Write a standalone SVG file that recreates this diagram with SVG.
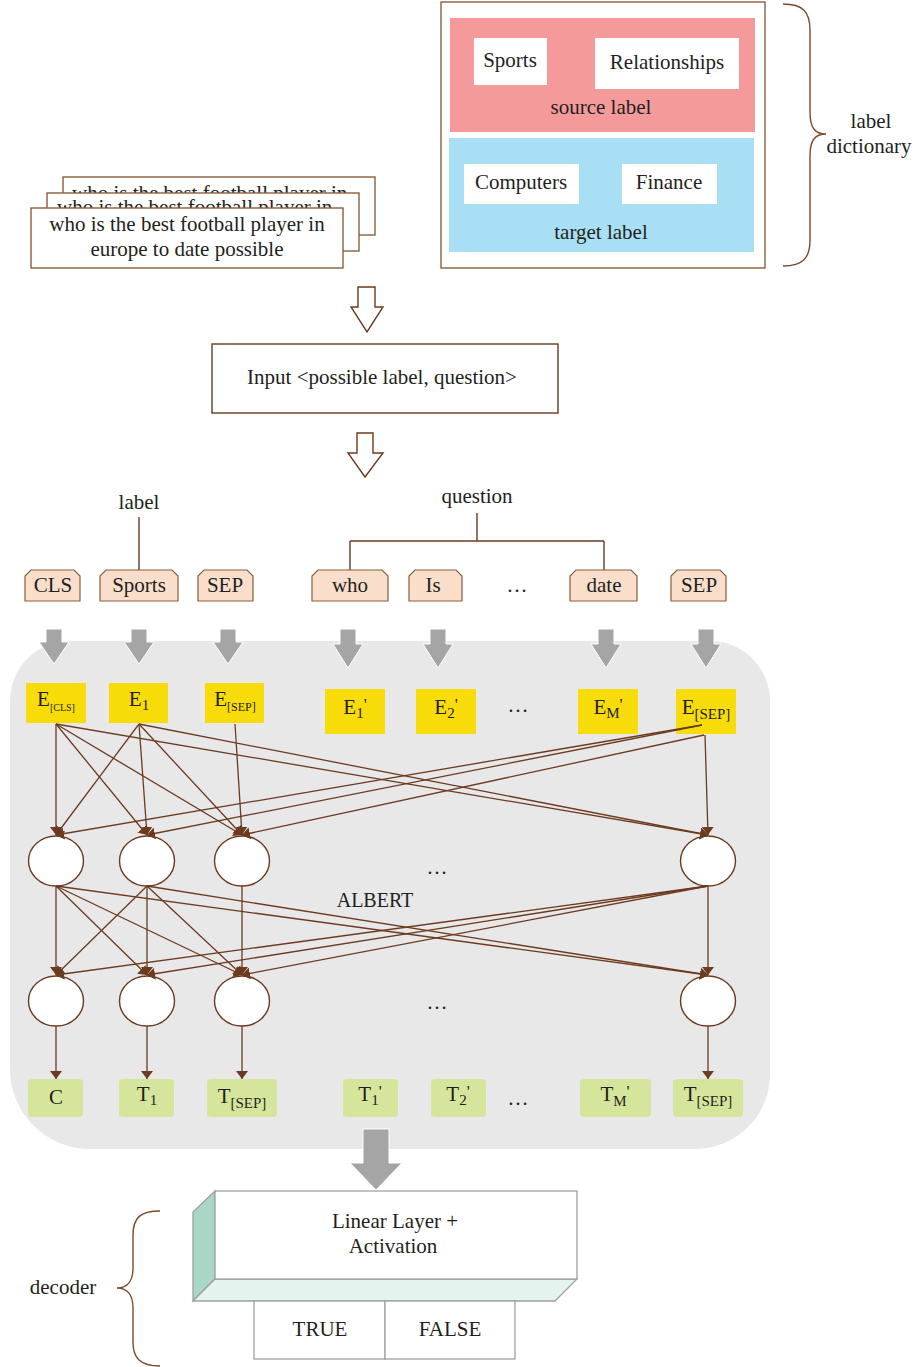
<svg xmlns="http://www.w3.org/2000/svg" width="916" height="1367" viewBox="0 0 916 1367">
  <style>
    text { font-family: "Liberation Serif", "Times New Roman", serif; font-size: 21px; fill: #231F20; }
    .mid { text-anchor: middle; }
    .card { fill: #FFFFFF; stroke: #8B5E3C; stroke-width: 1.4; }
    .tok { fill: #F9DECB; stroke: #8B5E3C; stroke-width: 1.2; }
    .emb { fill: #F8DC0A; }
    .out { fill: #D6E59C; }
    .node { fill: #FFFFFF; stroke: #6B3A1F; stroke-width: 1.4; }
    .edge { stroke: #6B3A1F; stroke-width: 1.3; fill: none; marker-end: url(#ah); }
    .feed { fill: #A5A5A5; stroke: #FFFFFF; stroke-width: 1; }
    .hollow { fill: #FFFFFF; stroke: #6B3A1F; stroke-width: 1.4; }
    .brace { fill: none; stroke: #7B4A2A; stroke-width: 1.4; }
    .dec { stroke: #A0A0A0; stroke-width: 1.3; }
    .pr { font-size: 17px; }
  </style>
  <defs>
    <marker id="ah" viewBox="0 0 8 12" refX="8" refY="6" markerWidth="8" markerHeight="12" markerUnits="userSpaceOnUse" orient="auto">
      <path d="M0,0 L8,6 L0,12 z" fill="#6B3A1F"/>
    </marker>
    <!-- visible strips of the cards lying underneath -->
    <clipPath id="backStrip"><rect x="64" y="178" width="310" height="15"/></clipPath>
    <clipPath id="midStrip"><rect x="48" y="194" width="310" height="14"/></clipPath>
  </defs>

  <!-- stacked question cards -->
  <g id="questions">
    <rect class="card" x="63" y="177" width="312" height="58"/>
    <text x="72" y="200" clip-path="url(#backStrip)">who is the best football player in</text>
    <rect class="card" x="47" y="193" width="312" height="58"/>
    <text x="57" y="214" clip-path="url(#midStrip)">who is the best football player in</text>
    <rect class="card" x="31" y="208" width="312" height="60"/>
    <text class="mid" x="187" y="231">who is the best football player in</text>
    <text class="mid" x="187" y="256">europe to date possible</text>
  </g>

  <!-- label dictionary -->
  <g id="label-dictionary">
    <rect x="441" y="2" width="324" height="266" fill="#FFFFFF" stroke="#8B5E3C" stroke-width="1.4"/>
    <rect x="450" y="18" width="305" height="114" fill="#F59A9B"/>
    <rect x="474" y="38" width="73" height="47" fill="#FFFFFF"/>
    <text class="mid" x="510" y="67">Sports</text>
    <rect x="595" y="38" width="144" height="51" fill="#FFFFFF"/>
    <text class="mid" x="667" y="69">Relationships</text>
    <text class="mid" x="601" y="114">source label</text>
    <rect x="449" y="138" width="305" height="114" fill="#A9DFF4"/>
    <rect x="464" y="164" width="115" height="40" fill="#FFFFFF"/>
    <text class="mid" x="521" y="189">Computers</text>
    <rect x="622" y="164" width="95" height="40" fill="#FFFFFF"/>
    <text class="mid" x="669" y="189">Finance</text>
    <text class="mid" x="601" y="239">target label</text>
    <path class="brace" d="M783,4 C803,4 810,12 810,30 L810,112 C810,128 815,134 826,134 C815,134 810,140 810,156 L810,240 C810,258 803,266 783,266"/>
    <text class="mid" x="871" y="128">label</text>
    <text class="mid" x="869" y="153">dictionary</text>
  </g>

  <!-- input -->
  <g id="input">
    <path class="hollow" d="M358,287 H375 V307 H383 L367,332 L351,307 H358 Z"/>
    <rect x="212" y="344" width="346" height="69" fill="#FFFFFF" stroke="#6B3A1F" stroke-width="1.4"/>
    <text class="mid" x="382" y="384">Input &lt;possible label, question&gt;</text>
    <path class="hollow" d="M357,433 H373 V453 H383 L365,477 L348,453 H357 Z"/>
  </g>

  <!-- token row -->
  <g id="tokens">
    <text class="mid" x="139" y="509">label</text>
    <text class="mid" x="477" y="503">question</text>
    <path d="M139,517 V570 M477,513 V541 M350,541 H604 M350,541 V570 M604,541 V570" stroke="#6B3A1F" stroke-width="1.4" fill="none"/>
    <path class="tok" d="M25,601 V576 L31,570 H74 L80,576 V601 Z"/>
    <text class="mid" x="53" y="592">CLS</text>
    <path class="tok" d="M100,601 V576 L106,570 H172 L178,576 V601 Z"/>
    <text class="mid" x="139" y="592">Sports</text>
    <path class="tok" d="M198,601 V576 L204,570 H247 L253,576 V601 Z"/>
    <text class="mid" x="225" y="592">SEP</text>
    <path class="tok" d="M312,601 V576 L318,570 H382 L388,576 V601 Z"/>
    <text class="mid" x="350" y="592">who</text>
    <path class="tok" d="M409,601 V576 L415,570 H456 L462,576 V601 Z"/>
    <text class="mid" x="433" y="592">Is</text>
    <text class="mid" x="517" y="592">…</text>
    <path class="tok" d="M570,601 V576 L576,570 H631 L637,576 V601 Z"/>
    <text class="mid" x="604" y="592">date</text>
    <path class="tok" d="M671,601 V576 L677,570 H720 L726,576 V601 Z"/>
    <text class="mid" x="699" y="592">SEP</text>
  </g>

  <!-- ALBERT encoder -->
  <g id="albert">
    <path d="M70,641 H710 A60,60 0 0 1 770,701 V1074 A75,75 0 0 1 695,1149 H90 A80,80 0 0 1 10,1069 V701 A60,60 0 0 1 70,641 Z" fill="#E8E8E8"/>
    <path class="feed" d="M46,629 H62 V642 H69 L54,664 L39,642 H46 Z"/>
    <path class="feed" d="M131,629 H147 V642 H154 L139,664 L124,642 H131 Z"/>
    <path class="feed" d="M220,629 H236 V642 H243 L228,664 L213,642 H220 Z"/>
    <path class="feed" d="M340,629 H356 V644 H363 L348,668 L333,644 H340 Z"/>
    <path class="feed" d="M430,629 H446 V644 H453 L438,668 L423,644 H430 Z"/>
    <path class="feed" d="M598,629 H614 V644 H621 L606,668 L591,644 H598 Z"/>
    <path class="feed" d="M698,629 H714 V644 H721 L706,668 L691,644 H698 Z"/>
    <text class="mid" x="375" y="907" style="font-size:20px">ALBERT</text>
    <text class="mid" x="437" y="874">…</text>
    <text class="mid" x="437" y="1009">…</text>
  </g>

  <!-- embeddings -->
  <g id="embeddings">
    <rect class="emb" x="26" y="683" width="60" height="40"/>
    <text class="mid" x="56" y="706">E<tspan style="font-size:10px" dy="5">[CLS]</tspan></text>
    <rect class="emb" x="109" y="683" width="59" height="40"/>
    <text class="mid" x="139" y="706">E<tspan style="font-size:15px" dy="4">1</tspan></text>
    <rect class="emb" x="205" y="683" width="59" height="40"/>
    <text class="mid" x="235" y="706">E<tspan style="font-size:12px" dy="5">[SEP]</tspan></text>
    <rect class="emb" x="325" y="689" width="60" height="45"/>
    <text class="mid" x="355" y="714">E<tspan style="font-size:15px" dy="4">1</tspan><tspan class="pr" dy="-8">'</tspan></text>
    <rect class="emb" x="416" y="689" width="60" height="45"/>
    <text class="mid" x="446" y="714">E<tspan style="font-size:15px" dy="4">2</tspan><tspan class="pr" dy="-8">'</tspan></text>
    <text class="mid" x="518" y="712">…</text>
    <rect class="emb" x="578" y="689" width="60" height="45"/>
    <text class="mid" x="608" y="714">E<tspan style="font-size:15px" dy="4">M</tspan><tspan class="pr" dy="-8">'</tspan></text>
    <rect class="emb" x="676" y="689" width="60" height="45"/>
    <text class="mid" x="706" y="714">E<tspan style="font-size:15px" dy="5">[SEP]</tspan></text>
  </g>

  <!-- hidden layers -->
  <g id="layer1">
    <ellipse class="node" cx="56" cy="861" rx="27.5" ry="25"/>
    <ellipse class="node" cx="147" cy="861" rx="27.5" ry="25"/>
    <ellipse class="node" cx="242" cy="861" rx="27.5" ry="25"/>
    <ellipse class="node" cx="708" cy="861" rx="27.5" ry="25"/>
  </g>
  <g id="layer2">
    <ellipse class="node" cx="56" cy="1001" rx="27.5" ry="25"/>
    <ellipse class="node" cx="147" cy="1001" rx="27.5" ry="25"/>
    <ellipse class="node" cx="242" cy="1001" rx="27.5" ry="25"/>
    <ellipse class="node" cx="708" cy="1001" rx="27.5" ry="25"/>
  </g>

  <!-- outputs -->
  <g id="outputs">
    <rect class="out" x="28" y="1079" width="55" height="38" rx="4"/>
    <text class="mid" x="56" y="1104">C</text>
    <rect class="out" x="119" y="1079" width="55" height="38" rx="4"/>
    <text class="mid" x="147" y="1101">T<tspan style="font-size:15px" dy="4">1</tspan></text>
    <rect class="out" x="207" y="1079" width="70" height="38" rx="4"/>
    <text class="mid" x="242" y="1103">T<tspan style="font-size:15px" dy="5">[SEP]</tspan></text>
    <rect class="out" x="343" y="1079" width="55" height="38" rx="4"/>
    <text class="mid" x="370" y="1101">T<tspan style="font-size:15px" dy="4">1</tspan><tspan class="pr" dy="-8">'</tspan></text>
    <rect class="out" x="431" y="1079" width="55" height="38" rx="4"/>
    <text class="mid" x="458" y="1101">T<tspan style="font-size:15px" dy="4">2</tspan><tspan class="pr" dy="-8">'</tspan></text>
    <text class="mid" x="518" y="1105">…</text>
    <rect class="out" x="580" y="1079" width="71" height="38" rx="4"/>
    <text class="mid" x="615" y="1101">T<tspan style="font-size:15px" dy="5">M</tspan><tspan class="pr" dy="-9">'</tspan></text>
    <rect class="out" x="673" y="1079" width="70" height="38" rx="4"/>
    <text class="mid" x="708" y="1101">T<tspan style="font-size:15px" dy="5">[SEP]</tspan></text>
  </g>

  <!-- connectors -->
  <g id="connectors">
    <line class="edge" x1="56" y1="724" x2="56" y2="835"/>
    <line class="edge" x1="56" y1="724" x2="147" y2="835"/>
    <line class="edge" x1="56" y1="724" x2="242" y2="835"/>
    <line class="edge" x1="56" y1="724" x2="708" y2="835"/>
    <line class="edge" x1="139" y1="724" x2="56" y2="835"/>
    <line class="edge" x1="139" y1="724" x2="147" y2="835"/>
    <line class="edge" x1="139" y1="724" x2="242" y2="835"/>
    <line class="edge" x1="139" y1="724" x2="708" y2="835"/>
    <line class="edge" x1="235" y1="724" x2="242" y2="835"/>
    <line class="edge" x1="702" y1="725" x2="56" y2="835"/>
    <line class="edge" x1="702" y1="725" x2="147" y2="835"/>
    <line class="edge" x1="704" y1="735" x2="242" y2="835"/>
    <line class="edge" x1="705" y1="735" x2="708" y2="835"/>

    <line class="edge" x1="56" y1="886" x2="56" y2="975"/>
    <line class="edge" x1="56" y1="886" x2="147" y2="975"/>
    <line class="edge" x1="56" y1="886" x2="242" y2="975"/>
    <line class="edge" x1="56" y1="886" x2="708" y2="975"/>
    <line class="edge" x1="147" y1="886" x2="56" y2="975"/>
    <line class="edge" x1="147" y1="886" x2="147" y2="975"/>
    <line class="edge" x1="147" y1="886" x2="242" y2="975"/>
    <line class="edge" x1="147" y1="886" x2="708" y2="975"/>
    <line class="edge" x1="242" y1="886" x2="242" y2="975"/>
    <line class="edge" x1="708" y1="886" x2="56" y2="975"/>
    <line class="edge" x1="708" y1="886" x2="147" y2="975"/>
    <line class="edge" x1="708" y1="886" x2="242" y2="975"/>
    <line class="edge" x1="708" y1="886" x2="708" y2="975"/>

    <line class="edge" x1="56" y1="1026" x2="56" y2="1079"/>
    <line class="edge" x1="147" y1="1026" x2="147" y2="1079"/>
    <line class="edge" x1="242" y1="1026" x2="242" y2="1079"/>
    <line class="edge" x1="708" y1="1026" x2="708" y2="1079"/>
  </g>

  <!-- decoder -->
  <g id="decoder">
    <path class="feed" d="M363,1129 H389 V1163 H402 L376,1190 L350,1163 H363 Z"/>
    <polygon class="dec" points="193,1212 215,1191 215,1279 193,1301" fill="#A8D8C5"/>
    <polygon class="dec" points="193,1301 215,1279 577,1279 555,1301" fill="#E5F3EE"/>
    <rect class="dec" x="215" y="1191" width="362" height="88" fill="#FFFFFF"/>
    <text class="mid" x="395" y="1228">Linear Layer +</text>
    <text class="mid" x="393" y="1253">Activation</text>
    <rect class="dec" x="254" y="1301" width="131" height="58" fill="#FFFFFF"/>
    <text class="mid" x="320" y="1336">TRUE</text>
    <rect class="dec" x="385" y="1301" width="130" height="58" fill="#FFFFFF"/>
    <text class="mid" x="450" y="1336">FALSE</text>
    <path class="brace" d="M160,1211 C140,1211 133,1218 133,1235 L133,1268 C133,1280 128,1288 117,1288 C128,1288 133,1296 133,1308 L133,1342 C133,1358 140,1366 160,1366"/>
    <text class="mid" x="63" y="1294">decoder</text>
  </g>
</svg>
